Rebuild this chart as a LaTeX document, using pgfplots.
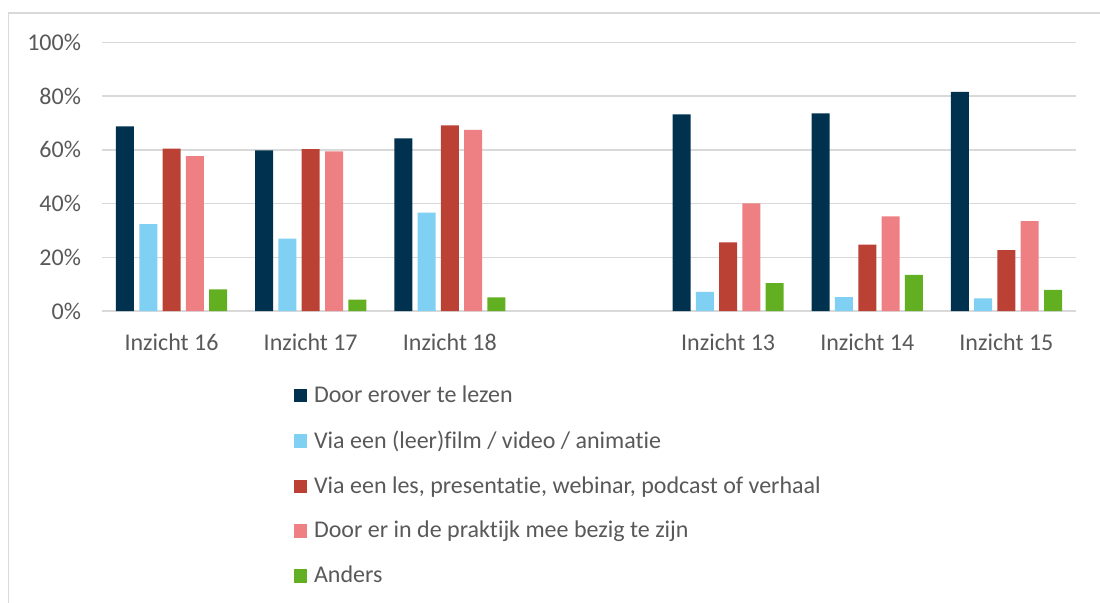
\documentclass[border=0pt]{standalone}
\usepackage{pgfplots}
\pgfplotsset{compat=1.18}
\usepackage{fontspec}
\setmainfont{Carlito}[Ligatures=NoCommon]

\definecolor{cNavy}{HTML}{00324F}
\definecolor{cSky}{HTML}{80D0F3}
\definecolor{cRed}{HTML}{BC4135}
\definecolor{cPink}{HTML}{EE7F83}
\definecolor{cGreen}{HTML}{62B021}
\definecolor{txt}{HTML}{595959}
\definecolor{gridc}{HTML}{D9D9D9}

% x: 0..6, positie 3 is leeg (scheiding tussen de twee groepen)
\begin{document}
\begin{tikzpicture}
\useasboundingbox (-51pt,-145.5pt) rectangle (499pt,155.5pt);
\draw[gridc, line width=0.8pt] (-46.75pt,-146pt) -- (-46.75pt,149pt) -- (500pt,149pt);
\begin{axis}[
    scale only axis,
    width=487pt,
    height=134.25pt,
    ybar=2.65pt,
    bar width=9pt,
    xmin=-0.5, xmax=6.5,
    ymin=0, ymax=100,
    xtick={0,1,2,4,5,6},
    xticklabels={Inzicht 16, Inzicht 17, Inzicht 18, Inzicht 13, Inzicht 14, Inzicht 15},
    ytick={0,20,40,60,80,100},
    yticklabel={\pgfmathprintnumber{\tick}\%},
    /pgf/number format/assume math mode=true,
    major tick length=0pt,
    axis x line*=bottom,
    axis y line*=left,
    x axis line style={gridc, line width=0.8pt},
    y axis line style={draw=none},
    ymajorgrids=true,
    grid style={gridc, line width=0.8pt},
    tick label style={font=\fontsize{12}{14}\selectfont, text=txt},
    yticklabel style={xshift=-7pt},
    xticklabel style={yshift=-8pt},
    legend style={
        at={(0.197,-0.262)}, anchor=north west,
        draw=none, inner sep=0pt,
        font=\fontsize{12}{14}\selectfont, text=txt,
        legend cell align=left,
        row sep=8.6pt,
        nodes={inner xsep=3.3pt},
    },
    legend image code/.code={\fill[#1] (0pt,-3.3pt) rectangle (6.6pt,3.3pt);},
    clip=false,
]
\addplot[fill=cNavy, draw=none] coordinates {(0,68.8) (1,59.8) (2,64.3) (4,73.2) (5,73.6) (6,81.6)};
\addplot[fill=cSky, draw=none] coordinates {(0,32.4) (1,27.0) (2,36.6) (4,7.1) (5,5.2) (6,4.7)};
\addplot[fill=cRed, draw=none] coordinates {(0,60.5) (1,60.3) (2,69.1) (4,25.6) (5,24.7) (6,22.7)};
\addplot[fill=cPink, draw=none] coordinates {(0,57.7) (1,59.5) (2,67.5) (4,40.1) (5,35.2) (6,33.5)};
\addplot[fill=cGreen, draw=none] coordinates {(0,8.1) (1,4.2) (2,5.1) (4,10.4) (5,13.5) (6,7.9)};
\legend{Door erover te lezen, Via een (leer)film / video / animatie, {Via een les, presentatie, webinar, podcast of verhaal}, Door er in de praktijk mee bezig te zijn, Anders}
\end{axis}
\end{tikzpicture}
\end{document}
